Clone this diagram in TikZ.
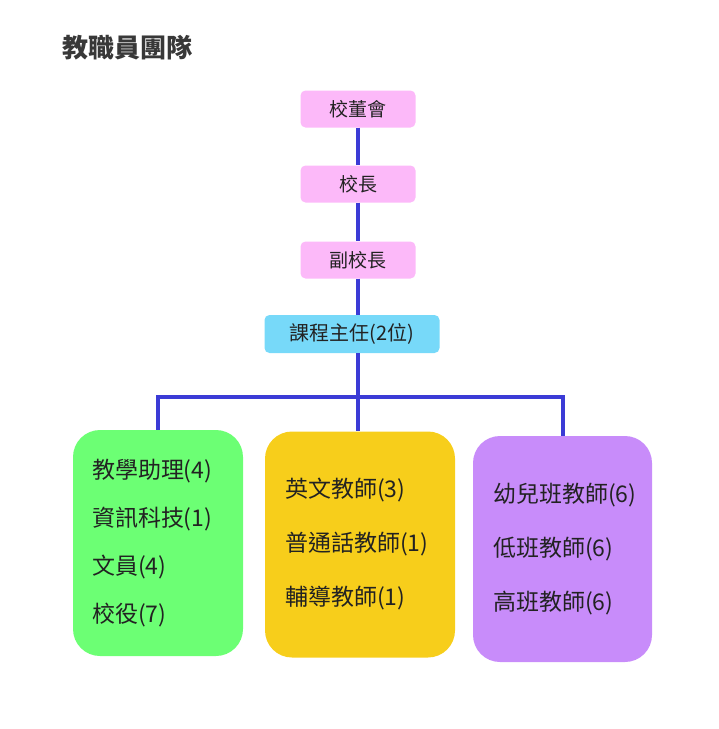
\documentclass[tikz,border=0pt]{standalone}
\usepackage{fontspec}
\setmainfont{Noto Sans CJK TC}
\usepackage{tikz}
\definecolor{linkblue}{HTML}{3B3BD6}
\definecolor{postpink}{HTML}{FCB9F9}
\definecolor{postcyan}{HTML}{77D9F9}
\definecolor{unitgreen}{HTML}{6CFF74}
\definecolor{unityellow}{HTML}{F7CE1B}
\definecolor{unitpurple}{HTML}{C88CFA}
\definecolor{ink}{HTML}{222222}

\begin{document}
\begin{tikzpicture}[x=1pt,y=-1pt,
link/.style={draw=linkblue,line width=4pt},
post/.style={fill=postpink,rounded corners=5pt,minimum width=115pt,minimum height=37pt,inner sep=0pt,text=ink,font=\fontsize{19}{22}\selectfont},
unit/.style={rounded corners=27pt,minimum width=#1,minimum height=226pt,inner sep=0pt},
roster/.style={anchor=west,inner sep=0pt,align=left,text=ink,font=\fontsize{23}{26}\selectfont}]
\useasboundingbox (0,0) rectangle (719,729);
\node[anchor=west,text=ink!90,font=\fontsize{26}{28}\selectfont\bfseries] (title) at (59,48) {教職員團隊};
\foreach \name/\y/\txt in {board/109/校董會,head/184/校長,vice/260/副校長}
  \node[post] (\name) at (358,\y) {\txt};
\node[post,fill=postcyan,minimum width=175pt,minimum height=38pt,font=\fontsize{20}{22}\selectfont] (chief) at (352,334) {課程主任(2位)};
\node[unit=170pt,fill=unitgreen] (staff) at (158,543) {};
\node[unit=190pt,fill=unityellow] (lang) at (360,544.5) {};
\node[unit=179pt,fill=unitpurple] (kind) at (562.5,549) {};
\node[roster] (staff-list) at ([xshift=19pt]staff.west) {教學助理(4)\\[22pt]資訊科技(1)\\[22pt]文員(4)\\[22pt]校役(7)};
\node[roster] (lang-list) at ([xshift=20pt]lang.west) {英文教師(3)\\[28pt]普通話教師(1)\\[28pt]輔導教師(1)};
\node[roster] (kind-list) at ([xshift=20pt]kind.west) {幼兒班教師(6)\\[28pt]低班教師(6)\\[28pt]高班教師(6)};
\coordinate (bar) at (358,397);
\draw[link] (board) -- (head);
\draw[link] (head) -- (vice);
\draw[link] (vice) -- (vice |- chief.north);
\draw[link] (vice |- chief.south) -- (vice |- lang.north);
\draw[link] (staff.north) |- (bar) -| (kind.north);
\end{tikzpicture}
\end{document}
